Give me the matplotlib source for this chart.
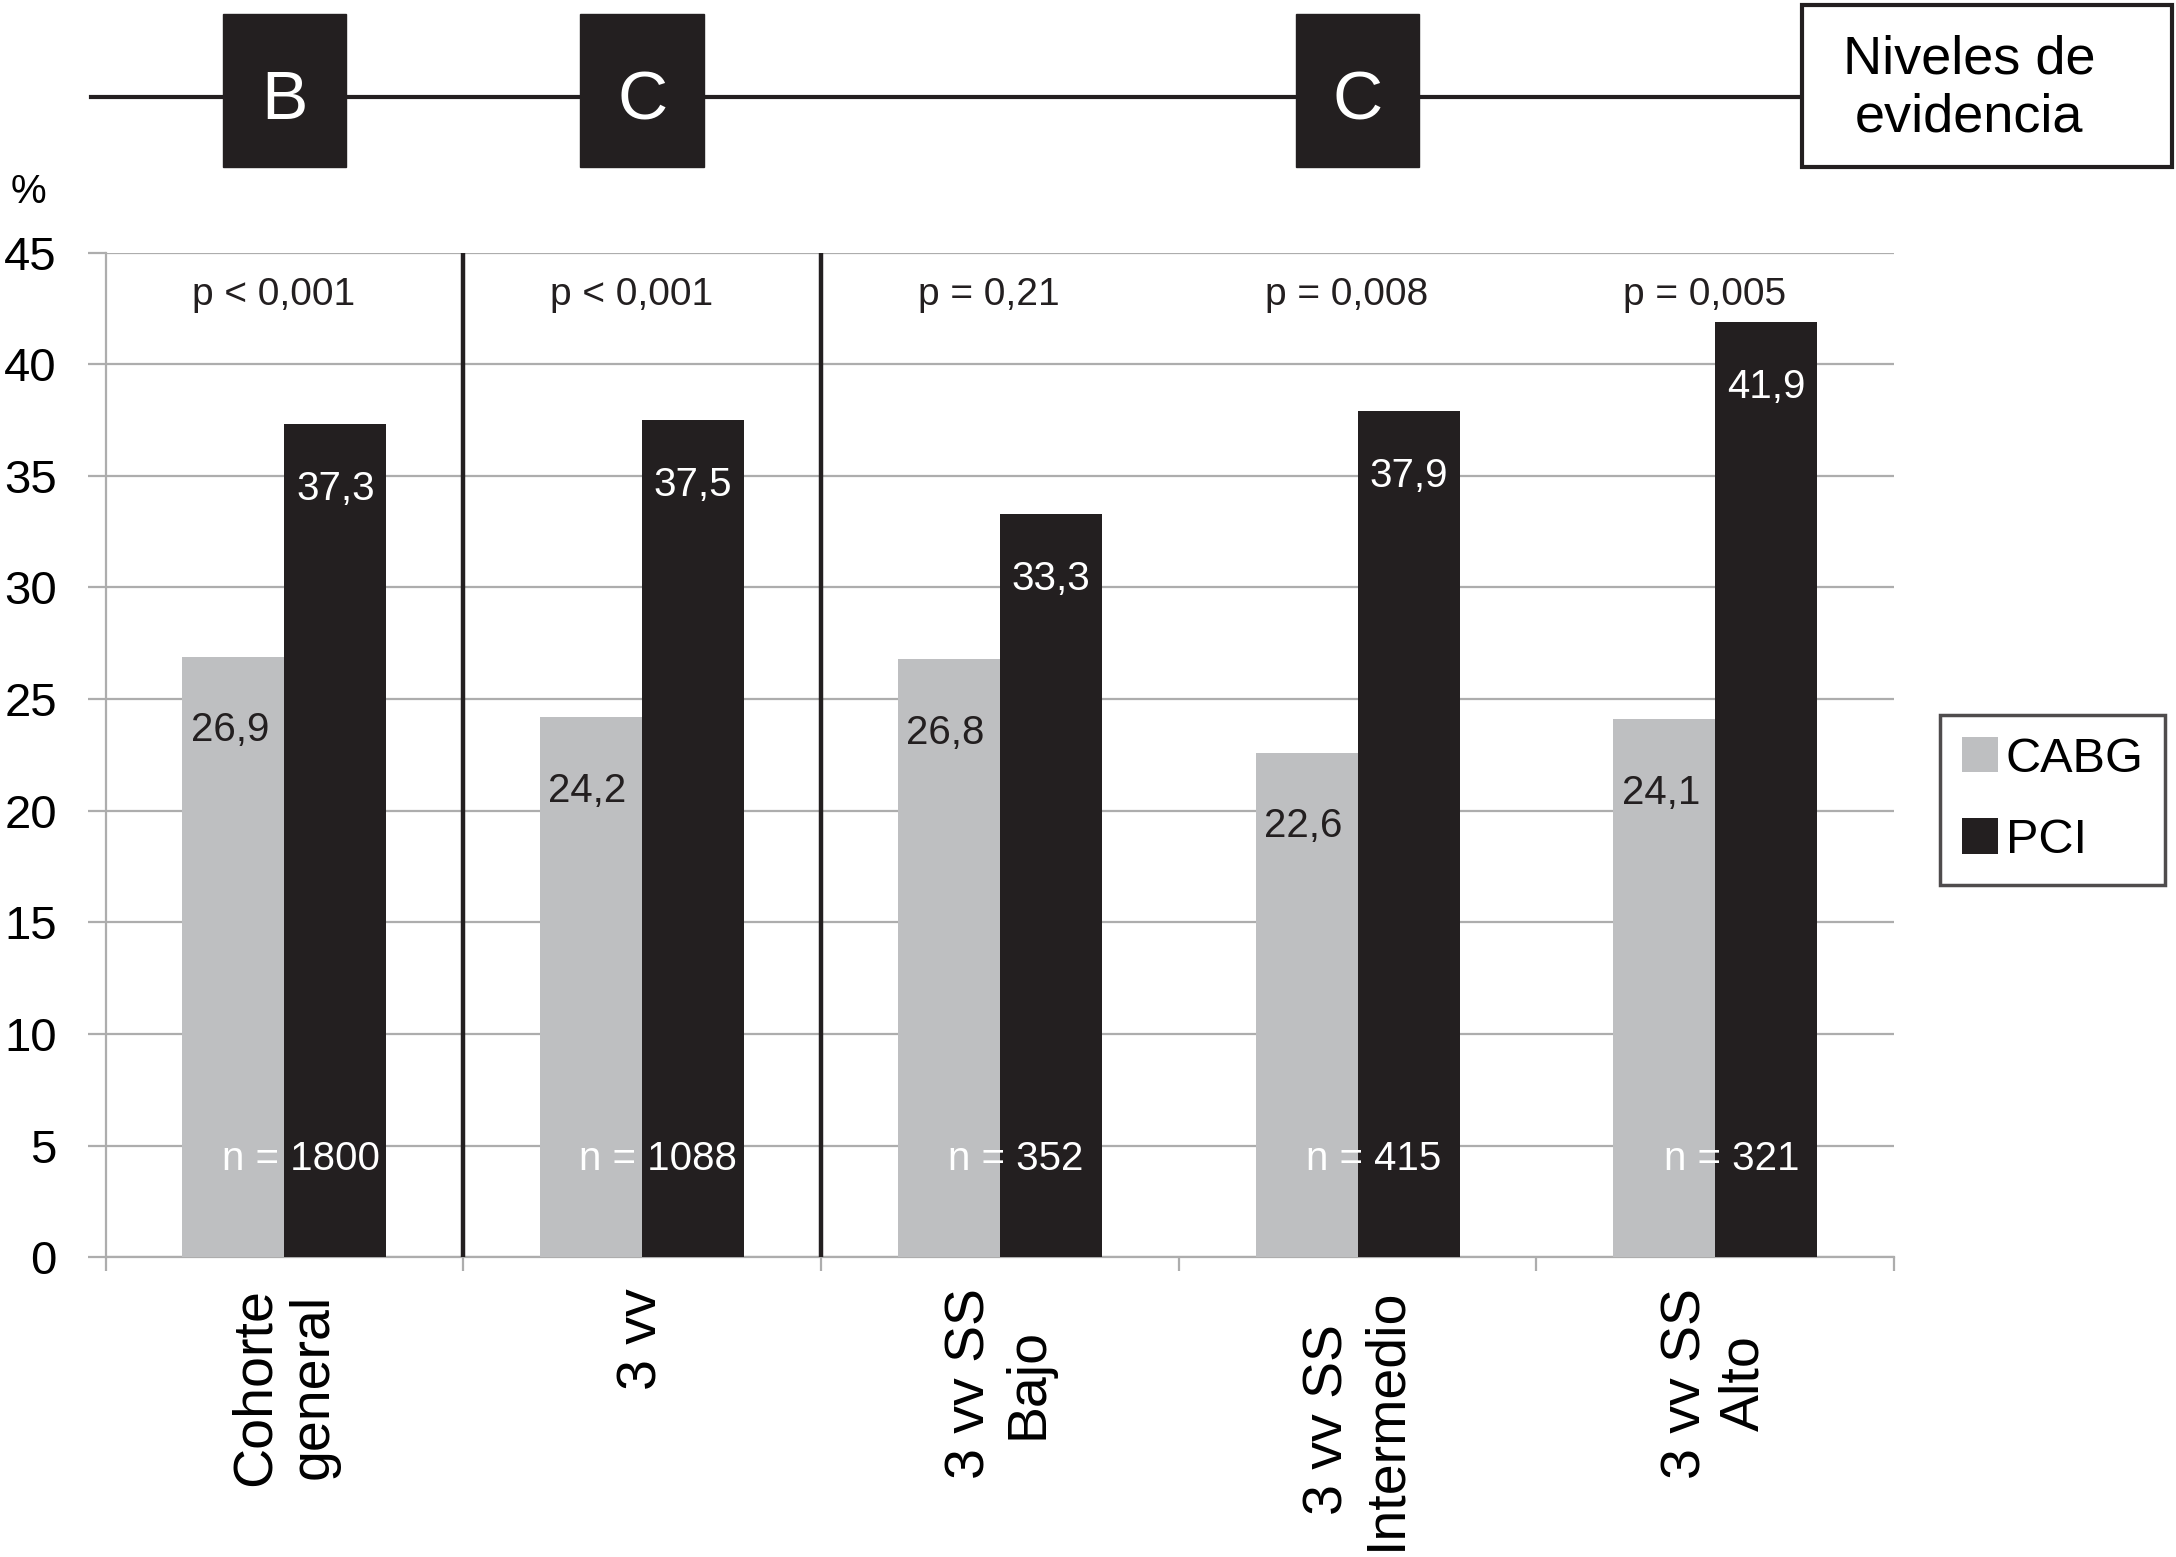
import matplotlib
matplotlib.use('Agg')
import matplotlib.pyplot as plt
import matplotlib.transforms as mtransforms
from matplotlib.patches import Rectangle, Patch
import numpy as np

plt.rcParams['font.family'] = ['Liberation Sans', 'DejaVu Sans']

# data
categories = ['Cohorte\ngeneral', '3 vv', '3 vv SS\nBajo', '3 vv SS\nIntermedio', '3 vv SS\nAlto']
cabg = [26.9, 24.2, 26.8, 22.6, 24.1]
pci = [37.3, 37.5, 33.3, 37.9, 41.9]
p_values = ['p < 0,001', 'p < 0,001', 'p = 0,21', 'p = 0,008', 'p = 0,005']
n_patients = [1800, 1088, 352, 415, 321]
evidence = ['B', 'C', '', 'C', '']

GRAY = '#BEBFC1'
BLACK = '#231F20'
GRID = '#ADADAD'

fig = plt.figure(figsize=(21.76, 15.57), dpi=100)
ax = fig.add_axes([0.0485, 0.1925, 0.822, 0.6453])

x = np.arange(len(categories))
w = 0.285
ax.bar(x - w / 2, cabg, w, color=GRAY, zorder=3, label='CABG')
ax.bar(x + w / 2, pci, w, color=BLACK, zorder=3, label='PCI')

def fmt(v):
    return ('%.1f' % v).replace('.', ',')

for i in range(len(categories)):
    ax.text(x[i] - w / 2 - 0.01, cabg[i] - 3.3, fmt(cabg[i]), ha='center', va='center',
            fontsize=29, color=BLACK, zorder=4)
    ax.text(x[i] + w / 2, pci[i] - 2.9, fmt(pci[i]), ha='center', va='center',
            fontsize=29, color='white', zorder=4)
    ax.text(x[i] + 0.045, 4.4, 'n = %d' % n_patients[i], ha='center', va='center',
            fontsize=29, color='white', zorder=4)
    ax.text(x[i] - 0.03, 43.1, p_values[i], ha='center', va='center',
            fontsize=28, color=BLACK, zorder=4)

# separators between groups
for sx in [0.5, 1.5]:
    ax.plot([sx, sx], [0, 45], color=BLACK, lw=3.2, zorder=4, solid_capstyle='butt')

ax.set_xlim(-0.5, len(categories) - 0.5)
ax.set_ylim(0, 45)
ax.set_yticks(np.arange(0, 46, 5))
ax.set_yticklabels([str(t) for t in range(0, 46, 5)], fontsize=34)
ax.yaxis.grid(True, color=GRID, lw=1.6, zorder=0)
ax.set_axisbelow(True)
ax.tick_params(axis='y', length=13, width=1.6, color=GRID, pad=22)

ax.set_xticks(x)
ax.set_xticklabels(categories, rotation=90, fontsize=40, ha='center', va='top',
                   multialignment='center', linespacing=1.15)
ax.set_xticks(np.arange(-0.5, len(categories), 1), minor=True)
ax.tick_params(axis='x', which='major', length=0, pad=22)
ax.tick_params(axis='x', which='minor', length=10, width=1.6, color=GRID)

for side in ['top', 'right']:
    ax.spines[side].set_visible(False)
for side in ['left', 'bottom']:
    ax.spines[side].set_color(GRID)
    ax.spines[side].set_linewidth(1.6)

fig.text(0.013, 0.877, '%', fontsize=29, ha='center', va='center')

# evidence level strip along the top
fig.add_artist(plt.Line2D([0.042, 0.828], [0.938, 0.938], color=BLACK, lw=3,
                          transform=fig.transFigure))
trans = mtransforms.blended_transform_factory(ax.transData, fig.transFigure)
bw = 0.345
for i, lev in enumerate(evidence):
    if not lev:
        continue
    fig.add_artist(Rectangle((x[i] - bw / 2, 0.893), bw, 0.098, transform=trans,
                             facecolor=BLACK, edgecolor=BLACK, zorder=5))
    fig.text(x[i], 0.935, lev, transform=trans, fontsize=50, color='white',
             ha='center', va='center', zorder=6)

fig.add_artist(Rectangle((0.828, 0.893), 0.170, 0.104, transform=fig.transFigure,
                         facecolor='white', edgecolor=BLACK, lw=3, zorder=5))
fig.text(0.905, 0.943, 'Niveles de\nevidencia', fontsize=39, ha='center', va='center',
         linespacing=1.2, zorder=6)

handles = [Patch(facecolor=GRAY, label='CABG'), Patch(facecolor=BLACK, label='PCI')]
leg = fig.legend(handles=handles, loc='upper left', bbox_to_anchor=(0.8916, 0.541),
                 fontsize=35, frameon=True, fancybox=False, edgecolor=BLACK,
                 handlelength=0.75, handleheight=0.75, handletextpad=0.15,
                 labelspacing=0.75, borderpad=0.45, borderaxespad=0)
leg.get_frame().set_linewidth(2.5)

fig.savefig('out.png', dpi=100, facecolor='white')
